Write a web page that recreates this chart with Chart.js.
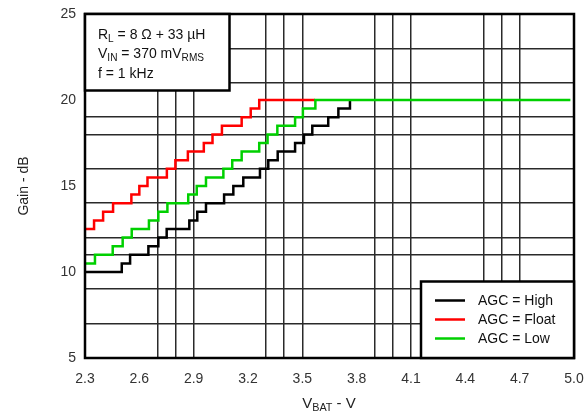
<!DOCTYPE html>
<html>
<head>
<meta charset="utf-8">
<script src="https://cdn.jsdelivr.net/npm/chart.js@4"></script>
<style>
  html, body { margin: 0; padding: 0; background: #fff; }
  #wrap { width: 584px; height: 413px; position: relative; }
</style>
</head>
<body>
<div id="wrap"><canvas id="gainChart"></canvas></div>
<script>
/* ── Data ── */
const X_TICKS = [2.3, 2.6, 2.9, 3.2, 3.5, 3.8, 4.1, 4.4, 4.7, 5.0];
const X_GRID  = [2.7, 2.8, 2.9, 3.3, 3.4, 3.5, 3.9, 4.0, 4.1, 4.5, 4.6, 4.7];
const Y_TICKS = [5, 10, 15, 20, 25];
const Y_GRID  = [7, 9, 11, 12, 14, 16, 18, 19, 21, 23];

/* AGC = High (black) */
const VBAT_HIGH = [2.30, 2.503, 2.549, 2.650, 2.705, 2.751, 2.876, 2.920, 2.968, 3.068, 3.119,
                   3.174, 3.266, 3.312, 3.364, 3.460, 3.509, 3.555, 3.643, 3.699, 3.763];
const GAIN_HIGH = [10, 10.5, 11, 11.5, 12, 12.5, 13, 13.5, 14, 14.5, 15,
                   15.5, 16, 16.5, 17, 17.5, 18, 18.5, 19, 19.5, 20];

/* AGC = Float (red) */
const VBAT_FLOAT = [2.30, 2.350, 2.400, 2.455, 2.556, 2.600, 2.645, 2.752, 2.799, 2.868, 2.956,
                    3.004, 3.056, 3.165, 3.215, 3.262, 3.570];
const GAIN_FLOAT = [12.5, 13, 13.5, 14, 14.5, 15, 15.5, 16, 16.5, 17, 17.5,
                    18, 18.5, 19, 19.5, 20, 20];

/* AGC = Low (green) */
const VBAT_LOW = [2.30, 2.355, 2.453, 2.508, 2.558, 2.653, 2.705, 2.755, 2.870, 2.917, 2.968,
                  3.064, 3.113, 3.165, 3.262, 3.308, 3.362, 3.460, 3.503, 3.572, 4.980];
const GAIN_LOW = [10.5, 11, 11.5, 12, 12.5, 13, 13.5, 14, 14.5, 15, 15.5,
                  16, 16.5, 17, 17.5, 18, 18.5, 19, 19.5, 20, 20];

const SERIES = [
  { label: 'AGC = High',  color: '#000000', x: VBAT_HIGH,  y: GAIN_HIGH,  order: 3 },
  { label: 'AGC = Float', color: '#ff0000', x: VBAT_FLOAT, y: GAIN_FLOAT, order: 2 },
  { label: 'AGC = Low',   color: '#00d000', x: VBAT_LOW,   y: GAIN_LOW,   order: 1 },
];

const FONT = "'Liberation Sans', Arial, sans-serif";
const GRID_COLOR = '#2a2a2a';

/* ── Helpers ── */
const near = (list, v) => list.some(t => Math.abs(t - v) < 1e-6);

/* draw text with subscript runs: parts = [[text, isSub], ...] */
function drawRich(ctx, parts, x, y, size) {
  parts.forEach(([txt, sub]) => {
    ctx.font = (sub ? size * 0.72 : size) + 'px ' + FONT;
    ctx.fillText(txt, x, sub ? y + size * 0.22 : y);
    x += ctx.measureText(txt).width;
  });
}

function richWidth(ctx, parts, size) {
  return parts.reduce((w, [txt, sub]) => {
    ctx.font = (sub ? size * 0.72 : size) + 'px ' + FONT;
    return w + ctx.measureText(txt).width;
  }, 0);
}

/* ── Decorations: frame, titles, note box, legend ── */
const decorations = {
  id: 'decorations',
  afterDatasetsDraw(chart) {
    const { ctx, chartArea: a } = chart;
    ctx.save();

    /* plot frame */
    ctx.strokeStyle = '#000';
    ctx.lineWidth = 2.5;
    ctx.strokeRect(a.left, a.top, a.right - a.left, a.bottom - a.top);

    /* note box (top-left) */
    const nb = { l: a.left, t: a.top, r: 229.5, b: 90.5 };
    ctx.fillStyle = '#fff';
    ctx.fillRect(nb.l, nb.t, nb.r - nb.l, nb.b - nb.t);
    ctx.strokeRect(nb.l, nb.t, nb.r - nb.l, nb.b - nb.t);

    ctx.fillStyle = '#111';
    ctx.textBaseline = 'alphabetic';
    ctx.textAlign = 'left';
    drawRich(ctx, [['R', false], ['L', true], [' = 8 \u03A9 + 33 \u00B5H', false]], 98, 38.5, 14);
    drawRich(ctx, [['V', false], ['IN', true], [' = 370 mV', false], ['RMS', true]], 98, 58, 14);
    drawRich(ctx, [['f = 1 kHz', false]], 98, 78, 14);

    /* legend box (bottom-right) */
    const lb = { l: 421, t: 281.5, r: a.right, b: a.bottom };
    ctx.fillStyle = '#fff';
    ctx.fillRect(lb.l, lb.t, lb.r - lb.l, lb.b - lb.t);
    ctx.strokeStyle = '#000';
    ctx.lineWidth = 2.5;
    ctx.strokeRect(lb.l, lb.t, lb.r - lb.l, lb.b - lb.t);

    ctx.font = '14px ' + FONT;
    ctx.textBaseline = 'middle';
    SERIES.forEach((s, i) => {
      const y = 300.5 + i * 19;
      ctx.strokeStyle = s.color;
      ctx.lineWidth = 2.5;
      ctx.beginPath();
      ctx.moveTo(435, y);
      ctx.lineTo(465, y);
      ctx.stroke();
      ctx.fillStyle = '#111';
      ctx.fillText(s.label, 478, y + 1);
    });

    /* axis titles */
    ctx.fillStyle = '#222';
    ctx.textBaseline = 'alphabetic';
    const xt = [['V', false], ['BAT', true], [' - V', false]];
    const xw = richWidth(ctx, xt, 15);
    drawRich(ctx, xt, 329 - xw / 2, 408, 15);

    ctx.translate(28, (a.top + a.bottom) / 2);
    ctx.rotate(-Math.PI / 2);
    ctx.font = '14px ' + FONT;
    ctx.textAlign = 'center';
    ctx.fillText('Gain - dB', 0, 0);

    ctx.restore();
  }
};

/* ── Chart ── */
function renderGain() {
  const canvas = document.getElementById('gainChart');
  if (!canvas) return;

  new Chart(canvas, {
    type: 'line',
    data: {
      datasets: SERIES.map(s => ({
        label: s.label,
        data: s.x.map((v, i) => ({ x: v, y: s.y[i] })),
        borderColor: s.color,
        borderWidth: 2.5,
        stepped: 'before',
        pointRadius: 0,
        fill: false,
        order: s.order,
      }))
    },
    options: {
      responsive: true,
      maintainAspectRatio: false,
      animation: false,
      layout: { padding: { left: 0, right: 10, top: 14, bottom: 0 } },
      plugins: {
        legend: { display: false },
        tooltip: { enabled: false },
      },
      scales: {
        x: {
          type: 'linear',
          min: 2.3,
          max: 5.0,
          afterBuildTicks: axis => {
            const vals = [...X_TICKS, ...X_GRID].filter((v, i, arr) =>
              arr.findIndex(w => Math.abs(w - v) < 1e-6) === i).sort((p, q) => p - q);
            axis.ticks = vals.map(v => ({ value: v }));
          },
          afterFit: axis => {
            axis.height = 55;
            axis.paddingLeft = 0;
            axis.paddingRight = 0;
          },
          grid: {
            drawTicks: false,
            lineWidth: 1.5,
            color: c => (c.tick && near(X_GRID, c.tick.value)) ? GRID_COLOR : 'rgba(0,0,0,0)',
          },
          border: { display: false },
          ticks: {
            autoSkip: false,
            maxRotation: 0,
            padding: 13,
            color: '#333',
            font: { family: FONT, size: 14 },
            callback: v => near(X_TICKS, v) ? v.toFixed(1) : '',
          },
        },
        y: {
          type: 'linear',
          min: 5,
          max: 25,
          afterBuildTicks: axis => {
            const vals = [...Y_TICKS, ...Y_GRID].sort((p, q) => p - q);
            axis.ticks = vals.map(v => ({ value: v }));
          },
          afterFit: axis => {
            axis.width = 85;
            axis.paddingTop = 0;
            axis.paddingBottom = 0;
          },
          grid: {
            drawTicks: false,
            lineWidth: 1.5,
            color: c => (c.tick && near(Y_GRID, c.tick.value)) ? GRID_COLOR : 'rgba(0,0,0,0)',
          },
          border: { display: false },
          ticks: {
            autoSkip: false,
            padding: 9,
            color: '#333',
            font: { family: FONT, size: 14 },
            callback: v => near(Y_TICKS, v) ? String(v) : '',
          },
        },
      },
    },
    plugins: [decorations],
  });
}

/* ── Init ── */
document.addEventListener('DOMContentLoaded', renderGain);
</script>
</body>
</html>
